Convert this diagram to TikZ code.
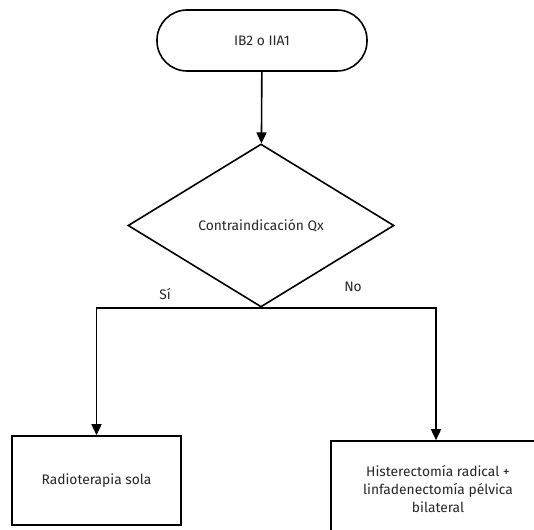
\documentclass[tikz,border=0pt]{standalone}
\usepackage{fontspec}
\setmainfont{Fira Sans}
\usetikzlibrary{shapes.geometric,arrows.meta}
\begin{document}
\begin{tikzpicture}[x=1pt,y=-1pt,
  line width=1.6pt,
  txt/.style={text=black!85,font=\fontsize{13.8}{18}\selectfont},
  boxstyle/.style={draw,txt,inner sep=0pt,align=center},
  arr/.style={-{Triangle[width=10pt,length=11pt]}}]
\useasboundingbox (0,0) rectangle (534,529);
\clip (0,0) rectangle (534,529);
\node[boxstyle,minimum width=210pt,minimum height=61pt,rounded corners=30pt] (start) at (262,40.5) {IB2 o IIA1};
\node[boxstyle,diamond,minimum width=266pt,minimum height=163pt] (dec) at (261,225.5) {Contraindicación Qx};
\node[boxstyle,minimum width=169pt,minimum height=89pt] (radio) at (96.5,480.5) {Radioterapia sola};
\node[boxstyle,minimum width=210pt,minimum height=110pt] (hist) at (436,496) {};
\node[txt,align=center,inner sep=0pt] (histtxt) at (438,489) {Histerectomía radical +\\linfadenectomía pélvica\\bilateral};
\node[txt] (si) at (165,294) {Sí};
\node[txt] (no) at (353,287) {No};
\draw[arr] (start) -- (dec);
\draw[arr] (dec.south) -| (radio.north);
\draw[arr] (dec.south) -| (hist.north);
\end{tikzpicture}
\end{document}
